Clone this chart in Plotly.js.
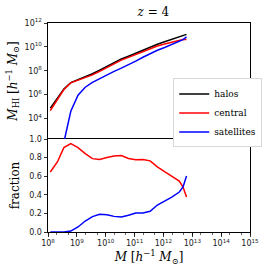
<!DOCTYPE html>
<html>
<head>
<meta charset="utf-8">
<script src="https://cdn.plot.ly/plotly-3.0.1.min.js"></script>
<style>html,body{margin:0;padding:0;background:#fff;}#chart{width:274px;height:271px;}</style>
</head>
<body>
<div id="chart"></div>
<script>
// log10 of halo mass M [h^-1 Msun]
const logMass = [8.08, 8.33, 8.55, 8.79, 9.04, 9.29, 9.54, 9.79, 10.04, 10.29, 10.54, 10.79, 11.04, 11.29, 11.54, 11.79, 12.04, 12.29, 12.55, 12.68, 12.8];
// log10 of M_HI [h^-1 Msun]
const logHIHalos = [4.87, 5.72, 6.47, 7.0, 7.25, 7.47, 7.75, 8.05, 8.38, 8.7, 8.98, 9.22, 9.47, 9.73, 10.0, 10.22, 10.43, 10.62, 10.83, 10.93, 11.05];
const logHICentral = [4.67, 5.55, 6.43, 6.98, 7.21, 7.4, 7.65, 7.94, 8.28, 8.61, 8.89, 9.12, 9.36, 9.62, 9.88, 10.07, 10.24, 10.4, 10.57, 10.61, 10.62];
const logHISatellites = [null, null, 2.0, 4.6, 5.95, 6.62, 7.02, 7.34, 7.65, 7.95, 8.22, 8.5, 8.8, 9.13, 9.43, 9.72, 9.95, 10.2, 10.45, 10.6, 10.83];
// fraction of HI
const fracCentral = [0.645, 0.756, 0.907, 0.95, 0.907, 0.842, 0.789, 0.78, 0.80, 0.818, 0.822, 0.79, 0.776, 0.78, 0.765, 0.70, 0.648, 0.60, 0.548, 0.484, 0.376];
const fracSatellites = [0, 0, 0, 0.01, 0.054, 0.118, 0.165, 0.19, 0.185, 0.168, 0.162, 0.18, 0.204, 0.205, 0.222, 0.29, 0.33, 0.375, 0.43, 0.484, 0.602];
const seriesNames = ['halos', 'central', 'satellites'];
const seriesColors = ['#000000', '#ff0000', '#0000ff'];
const xTickVals = [8, 9, 10, 11, 12, 13, 14, 15];
const yTopTickVals = [4, 6, 8, 10, 12];

const pw = v => v === null ? null : Math.pow(10, v);
const mass = logMass.map(pw);

const serif = 'DejaVu Serif, Liberation Serif, serif';
const sans = 'DejaVu Sans, sans-serif';

const topSeries = [logHIHalos, logHICentral, logHISatellites];
const traces = [];
topSeries.forEach((arr, i) => {
  traces.push({x: mass, y: arr.map(pw), type: 'scatter', mode: 'lines', name: seriesNames[i],
    line: {color: seriesColors[i], width: 1.5}, xaxis: 'x2', yaxis: 'y2', connectgaps: false});
});
traces.push({x: mass, y: fracCentral, type: 'scatter', mode: 'lines', name: 'central',
  line: {color: seriesColors[1], width: 1.5}, xaxis: 'x', yaxis: 'y', showlegend: false});
traces.push({x: mass, y: fracSatellites, type: 'scatter', mode: 'lines', name: 'satellites',
  line: {color: seriesColors[2], width: 1.5}, xaxis: 'x', yaxis: 'y', showlegend: false});

const split = 93 / 209;
const axCommon = {showline: true, linecolor: '#000', linewidth: 1, mirror: true, showgrid: false, zeroline: false,
  ticks: 'outside', ticklen: 3.5, tickwidth: 0.8, tickcolor: '#000', tickfont: {family: sans, size: 8, color: '#222'}};

const layout = {
  width: 274, height: 271,
  margin: {l: 48, r: 15, t: 23, b: 39},
  paper_bgcolor: '#fff', plot_bgcolor: '#fff',
  title: {text: '<i>z</i> = 4', font: {family: serif, size: 12, color: '#000'}, x: 0.56, xanchor: 'center', y: 0.955, yanchor: 'middle'},
  showlegend: true,
  legend: {x: 0.62, y: 0.735, xanchor: 'left', yanchor: 'top', bgcolor: '#fff', bordercolor: '#d8d8d8', borderwidth: 1,
    font: {family: serif, size: 9, color: '#000'}, itemwidth: 30, tracegroupgap: 0},
  xaxis: Object.assign({}, axCommon, {type: 'log', range: [8, 15], domain: [0, 1], anchor: 'y',
    tickvals: xTickVals.map(pw),
    ticktext: xTickVals.map(v => '10<sup>' + v + '</sup>'),
    minor: {ticks: 'outside', ticklen: 2, tickwidth: 0.6, tickcolor: '#000', showgrid: false},
    title: {text: '<i>M</i> [<i>h</i><sup>−1</sup> <i>M</i><sub>⊙</sub>]', font: {family: serif, size: 12, color: '#000'}, standoff: 4}}),
  yaxis: Object.assign({}, axCommon, {range: [0, 1], domain: [0, split], anchor: 'x',
    tickvals: [0, 0.2, 0.4, 0.6, 0.8, 1.0], ticktext: ['0.0', '0.2', '0.4', '0.6', '0.8', '1.0'],
    title: {text: 'fraction', font: {family: serif, size: 12, color: '#000'}, standoff: 6}}),
  xaxis2: Object.assign({}, axCommon, {type: 'log', range: [8, 15], domain: [0, 1], anchor: 'y2', matches: 'x',
    side: 'top', mirror: false, showticklabels: false, ticks: ''}),
  yaxis2: Object.assign({}, axCommon, {type: 'log', range: [2.28, 12], domain: [split, 1], anchor: 'x2',
    tickvals: yTopTickVals.map(pw), ticktext: yTopTickVals.map(v => '10<sup>' + v + '</sup>'),
    title: {text: '<i>M</i><sub>HI</sub> [<i>h</i><sup>−1</sup> <i>M</i><sub>⊙</sub>]', font: {family: serif, size: 12, color: '#000'}, standoff: 4}})
};

Plotly.newPlot('chart', traces, layout, {staticPlot: true, displayModeBar: false});
</script>
</body>
</html>
